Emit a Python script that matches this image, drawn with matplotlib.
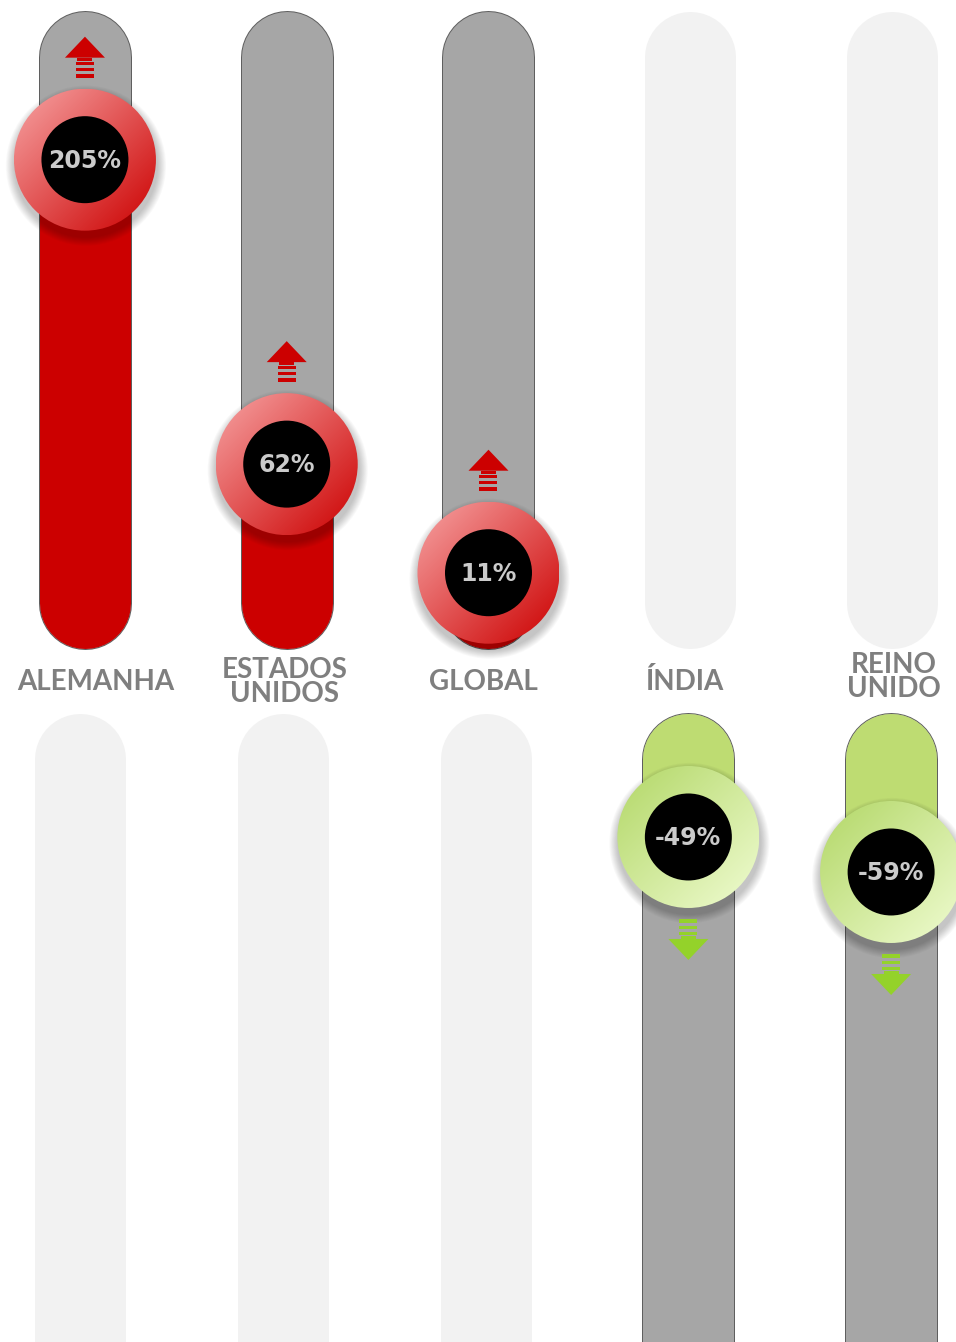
import numpy as np
import matplotlib
matplotlib.use("Agg")
import matplotlib.pyplot as plt
from matplotlib.patches import Circle, Polygon, Rectangle

categories = ["ALEMANHA", "ESTADOS\nUNIDOS", "GLOBAL", "ÍNDIA", "REINO\nUNIDO"]
values = [205, 62, 11, -49, -59]
value_labels = ["205%", "62%", "11%", "-49%", "-59%"]

W, H = 956, 1342
PX = 0.72  # points per pixel at dpi 100

fig = plt.figure(figsize=(W / 100, H / 100), dpi=100)
fig.patch.set_facecolor("white")

# top panel: positive changes, bottom panel: negative changes
ax_top = fig.add_axes([0, 1 - 660 / H, 1, 660 / H])
ax_bot = fig.add_axes([0, 0, 1, 642 / H])
ax_top.set_xlim(-0.421, 4.317)
ax_top.set_ylim(-30, 280)
ax_bot.set_xlim(-0.395, 4.32)
ax_bot.set_ylim(-193.3, -9.86)

# overlay in pixel units for knobs, arrows and labels
ov = fig.add_axes([0, 0, 1, 1])
ov.set_zorder(5)
ov.patch.set_alpha(0)
ov.set_xlim(0, W)
ov.set_ylim(H, 0)

for a in (ax_top, ax_bot, ov):
    a.axis("off")
    a.set_autoscale_on(False)

RED = "#cc0000"
GREEN_FILL = "#bedc72"
GREEN_ARROW = "#94d22a"
TRACK = "#a6a6a6"
EDGE = "#5f5f5f"
EMPTY = "#f2f2f2"

TOP_LO, TOP_HI = -3, 253
BOT_HI, BOT_LO = -26.7, -300


def track(ax, x, lo, hi, color, edge=True):
    if edge:
        ax.plot([x, x], [lo, hi], color=EDGE, lw=93 * PX, solid_capstyle="round", zorder=1)
    ax.plot([x, x], [lo, hi], color=color, lw=91 * PX, solid_capstyle="round", zorder=2)


def to_px(ax, x, y):
    d = ax.transData.transform((x, y))
    return ov.transData.inverted().transform(d)


def knob(cx, cy, light, dark, text):
    r = 71
    for k in range(10):
        ov.add_patch(Circle((cx + 1, cy + 6), r + 1 + k * 0.9, color="black",
                            alpha=0.025, lw=0, zorder=2))
    n = 200
    yy, xx = np.mgrid[0:n, 0:n]
    t = (xx + yy) / (2.0 * (n - 1))
    img = np.zeros((n, n, 3))
    for c in range(3):
        img[..., c] = light[c] * (1 - t) + dark[c] * t
    im = ov.imshow(img, extent=(cx - r, cx + r, cy + r, cy - r), origin="upper",
                   aspect="auto", zorder=3, interpolation="bilinear")
    clip = Circle((cx, cy), r, transform=ov.transData)
    im.set_clip_path(clip)
    ov.add_patch(Circle((cx, cy), 43.5, color="black", lw=0, zorder=4))
    ov.text(cx, cy + 1, text, ha="center", va="center", fontsize=17, fontweight="bold",
            color="#cbcbcb", family="DejaVu Sans", zorder=5)


def arrow(cx, cy, sign, color):
    tip = cy + sign * 123
    base = cy + sign * 102
    ov.add_patch(Polygon([(cx - 20, base), (cx + 20, base), (cx, tip)], closed=True,
                         color=color, lw=0, zorder=4))
    ov.add_patch(Rectangle((cx - 7.5, min(base, base - sign * 3)), 15, 3,
                           color=color, lw=0, zorder=4))
    for a0, a1 in [(82, 86), (89, 92), (95, 98)]:
        y0 = cy + sign * a0
        y1 = cy + sign * a1
        ov.add_patch(Rectangle((cx - 9, min(y0, y1)), 18, abs(y1 - y0),
                               color=color, lw=0, zorder=4))


red_light = matplotlib.colors.to_rgb("#f7a4a4")
red_dark = matplotlib.colors.to_rgb("#cc0000")
green_light = matplotlib.colors.to_rgb("#f0fcd2")
green_dark = matplotlib.colors.to_rgb("#b2d766")

for i, (v, lab) in enumerate(zip(values, value_labels)):
    if v >= 0:
        track(ax_top, i, TOP_LO, TOP_HI, TRACK)
        ax_top.plot([i, i], [TOP_LO, v], color=RED, lw=91 * PX, solid_capstyle="round", zorder=3)
        track(ax_bot, i, BOT_LO, BOT_HI, EMPTY, edge=False)
        cx, cy = to_px(ax_top, i, v)
        arrow(cx, cy, -1, RED)
        knob(cx, cy, red_light, red_dark, lab)
    else:
        track(ax_top, i, TOP_LO, TOP_HI, EMPTY, edge=False)
        track(ax_bot, i, BOT_LO, BOT_HI, TRACK)
        ax_bot.plot([i, i], [BOT_HI, v], color=GREEN_FILL, lw=91 * PX, solid_capstyle="round", zorder=3)
        cx, cy = to_px(ax_bot, i, v)
        arrow(cx, cy, 1, GREEN_ARROW)
        knob(cx, cy, green_dark, green_light, lab)

label_dy = [0, 0, 0, 0, -5]
label_dx = [11, -2, -5, -6, 2]
for i, cat in enumerate(categories):
    cx, _ = to_px(ax_top, i, 0)
    ov.text(cx + label_dx[i], 682 + label_dy[i], cat, ha="center", va="center",
            fontsize=20, fontweight="bold", color="#7f7f7f", family="Lato",
            linespacing=0.86, zorder=6)

ov.set_xlim(0, W)
ov.set_ylim(H, 0)
fig.savefig("out.png", dpi=100)
